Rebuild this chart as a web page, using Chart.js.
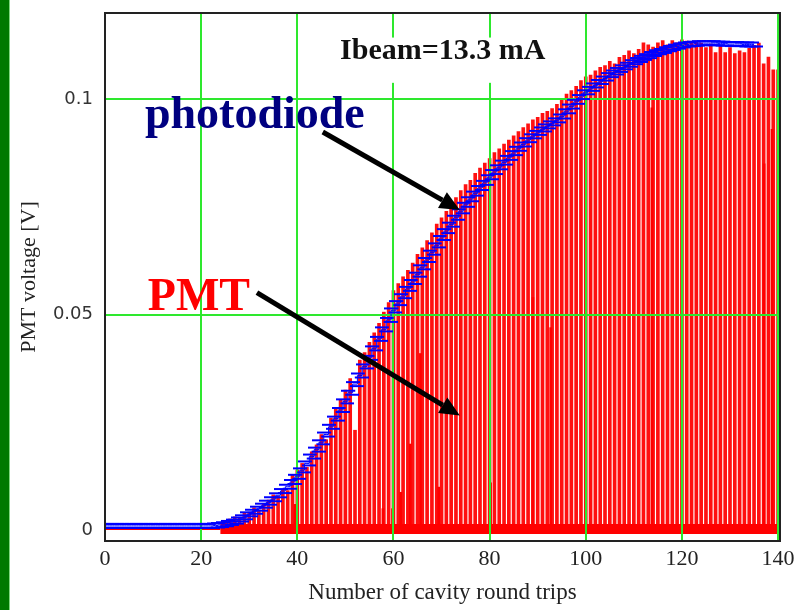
<!DOCTYPE html>
<html>
<head>
<meta charset="utf-8">
<script src="https://cdn.jsdelivr.net/npm/chart.js@4.4.0/dist/chart.umd.min.js"></script>
<style>
  body { margin: 0; background: #fff; }
  #wrap { position: relative; width: 810px; height: 610px; }
  #strip { position: absolute; left: 0; top: 0; width: 9px; height: 610px; background: #007a00; border-right: 1px solid #7fd87f; }
</style>
</head>
<body>
<div id="wrap">
  <canvas id="pmtChart" width="810" height="610"></canvas>
  <div id="strip"></div>
</div>
<script>
// axis ticks
const xTicks = [0, 20, 40, 60, 80, 100, 120, 140];
const yTicks = [0, 0.05, 0.1];

// photodiode signal, one value per round trip (0..135)
const photodiode = [
  0.0010, 0.0010, 0.0010, 0.0010, 0.0010, 0.0010, 0.0010, 0.0010, 0.0010, 0.0010,
  0.0010, 0.0010, 0.0010, 0.0010, 0.0010, 0.0010, 0.0010, 0.0010, 0.0010, 0.0010,
  0.0010, 0.0010, 0.0010, 0.0011, 0.0012, 0.0014, 0.0017, 0.0020, 0.0025, 0.0030,
  0.0037, 0.0043, 0.0050, 0.0057, 0.0064, 0.0072, 0.0081, 0.0091, 0.0101, 0.0112,
  0.0124, 0.0139, 0.0155, 0.0171, 0.0187, 0.0204, 0.0222, 0.0240, 0.0259, 0.0279,
  0.0299, 0.0319, 0.0339, 0.0359, 0.0380, 0.0400, 0.0422, 0.0444, 0.0466, 0.0488,
  0.0510, 0.0527, 0.0543, 0.0560, 0.0576, 0.0593, 0.0610, 0.0627, 0.0644, 0.0661,
  0.0678, 0.0694, 0.0709, 0.0725, 0.0740, 0.0755, 0.0768, 0.0781, 0.0794, 0.0806,
  0.0819, 0.0831, 0.0842, 0.0853, 0.0864, 0.0875, 0.0885, 0.0895, 0.0905, 0.0914,
  0.0922, 0.0930, 0.0937, 0.0944, 0.0951, 0.0960, 0.0972, 0.0983, 0.0994, 0.1005,
  0.1016, 0.1024, 0.1032, 0.1040, 0.1048, 0.1056, 0.1062, 0.1068, 0.1074, 0.1080,
  0.1086, 0.1091, 0.1096, 0.1100, 0.1105, 0.1109, 0.1112, 0.1116, 0.1119, 0.1122,
  0.1125, 0.1127, 0.1128, 0.1129, 0.1130, 0.1130, 0.1130, 0.1130, 0.1129, 0.1129,
  0.1128, 0.1128, 0.1128, 0.1127, 0.1127, 0.1127
];

// PMT pulse peak per round trip (0..140), 0 = no pulse seen
const pmtPeaks = [
  0, 0, 0, 0, 0, 0, 0, 0, 0, 0,
  0, 0, 0, 0, 0, 0, 0, 0, 0, 0,
  0, 0, 0, 0, 0, 0.0022, 0.0026, 0.0031, 0.0028, 0.0040,
  0.0042, 0.0052, 0.0047, 0.0062, 0.0070, 0.0082, 0.0079, 0.0095, 0.0092, 0.0128,
  0.0140, 0.0155, 0.0146, 0.0182, 0.0198, 0.0222, 0.0210, 0.0260, 0.0282, 0.0302,
  0.0325, 0.0352, 0.0232, 0.0395, 0.0412, 0.0436, 0.0458, 0.0480, 0.0506, 0.0528,
  0.0556, 0.0572, 0.0588, 0.0603, 0.0620, 0.0640, 0.0655, 0.0672, 0.0690, 0.0710,
  0.0725, 0.0740, 0.0758, 0.0772, 0.0788, 0.0802, 0.0812, 0.0828, 0.0840, 0.0852,
  0.0862, 0.0876, 0.0885, 0.0896, 0.0905, 0.0915, 0.0925, 0.0934, 0.0943, 0.0952,
  0.0958, 0.0967, 0.0972, 0.0978, 0.0988, 0.1002, 0.1012, 0.1020, 0.1030, 0.1043,
  0.1052, 0.1056, 0.1066, 0.1074, 0.1078, 0.1088, 0.1082, 0.1097, 0.1102, 0.1112,
  0.1106, 0.1116, 0.1131, 0.1126, 0.1121, 0.1131, 0.1136, 0.1126, 0.1136, 0.1131,
  0.1138, 0.1135, 0.1130, 0.1135, 0.1130, 0.1120, 0.1128, 0.1108, 0.1125, 0.1108,
  0.1120, 0.1106, 0.1112, 0.1108, 0.1118, 0.1125, 0.1130, 0.1082, 0.1098, 0.1068,
  0.1068
];

// weaker PMT pulses between the main ones
const pmtExtraTrips = [39.5, 57.8, 59.8, 61.5, 63.5, 65.6, 69.4, 80.2, 89.0, 92.7, 113.75, 137.1, 138.75];
const pmtExtraPeaks = [0.006, 0.005, 0.005, 0.0088, 0.020, 0.041, 0.010, 0.011, 0.054, 0.047, 0.098, 0.085, 0.093];

// PMT noise floor
const floorTrips = [0, 24, 140.4];
const floorLevels = [0.0003, 0.0003, 0.0003];

const pdData = photodiode.map((v, i) => ({ x: i, y: v }));
const pmtData = pmtPeaks.map((v, i) => ({ x: i, y: v })).filter(p => p.y > 0);
const extraData = pmtExtraTrips.map((t, i) => ({ x: t, y: pmtExtraPeaks[i] }));
const floorThin = [{ x: floorTrips[0], y: floorLevels[0] }, { x: floorTrips[1], y: floorLevels[1] }];
const floorThick = [{ x: floorTrips[1], y: floorLevels[1] }, { x: floorTrips[2], y: floorLevels[2] }];

// photodiode marker: two staggered horizontal dashes, like the scope trace
const dash = document.createElement("canvas");
dash.width = 18;
dash.height = 8;
const dctx = dash.getContext("2d");
dctx.fillStyle = "#0000ff";
dctx.fillRect(0, 1, 14, 2);
dctx.fillRect(4, 5, 14, 2);

// green grid drawn over the PMT trace but under the photodiode trace
const gridPlugin = {
  id: "gridOver",
  afterDatasetDraw(chart, args) {
    if (args.meta.label !== "floor") return;
    const { ctx, chartArea, scales } = chart;
    ctx.save();
    ctx.strokeStyle = "#2ee82e";
    ctx.lineWidth = 2;
    ctx.beginPath();
    xTicks.forEach(t => {
      if (t === 0) return;
      const px = Math.round(scales.x.getPixelForValue(t));
      ctx.moveTo(px, chartArea.top);
      ctx.lineTo(px, chartArea.bottom);
    });
    yTicks.forEach(t => {
      if (t === 0) return;
      const py = Math.round(scales.y.getPixelForValue(t));
      ctx.moveTo(chartArea.left, py);
      ctx.lineTo(chartArea.right, py);
    });
    ctx.stroke();
    ctx.restore();
  }
};

function arrow(ctx, x1, y1, x2, y2) {
  const a = Math.atan2(y2 - y1, x2 - x1);
  const len = 20, hw = 9;
  const bx = x2 - len * Math.cos(a), by = y2 - len * Math.sin(a);
  ctx.beginPath();
  ctx.moveTo(x1, y1);
  ctx.lineTo(bx, by);
  ctx.stroke();
  ctx.beginPath();
  ctx.moveTo(x2, y2);
  ctx.lineTo(bx + hw * Math.sin(a), by - hw * Math.cos(a));
  ctx.lineTo(bx - hw * Math.sin(a), by + hw * Math.cos(a));
  ctx.closePath();
  ctx.fill();
}

const notesPlugin = {
  id: "notes",
  afterDatasetsDraw(chart) {
    const { ctx, chartArea, scales } = chart;
    const X = v => scales.x.getPixelForValue(v);
    const Y = v => scales.y.getPixelForValue(v);
    ctx.save();
    // frame
    ctx.strokeStyle = "#222";
    ctx.lineWidth = 2;
    ctx.strokeRect(chartArea.left, chartArea.top, chartArea.right - chartArea.left, chartArea.bottom - chartArea.top);
    // beam current box
    ctx.fillStyle = "#fff";
    ctx.fillRect(X(46.8), Y(0.1143), X(93.5) - X(46.8), Y(0.1038) - Y(0.1143));
    ctx.fillStyle = "#111";
    ctx.font = "bold 30px 'Liberation Serif'";
    ctx.textBaseline = "alphabetic";
    ctx.fillText("Ibeam=13.3 mA", X(48.9), Y(0.1093));
    // labels
    ctx.font = "bold 46px 'Liberation Serif'";
    ctx.fillStyle = "#000080";
    ctx.fillText("photodiode", X(8.3), Y(0.0933));
    ctx.fillStyle = "#ff0000";
    ctx.fillText("PMT", X(8.9), Y(0.0512));
    // arrows
    ctx.strokeStyle = "#000";
    ctx.fillStyle = "#000";
    ctx.lineWidth = 5;
    arrow(ctx, X(45.3), Y(0.0924), X(73.8), Y(0.0743));
    arrow(ctx, X(31.6), Y(0.0551), X(73.8), Y(0.0266));
    ctx.restore();
  }
};

new Chart(document.getElementById("pmtChart"), {
  type: "bar",
  data: {
    datasets: [
      {
        type: "line",
        label: "photodiode",
        data: pdData,
        order: 0,
        stepped: "middle",
        borderColor: "#0000ff",
        borderWidth: 1,
        pointStyle: dash,
        pointRadius: 8
      },
      {
        type: "line",
        label: "floor",
        data: floorThick,
        order: 1,
        borderColor: "#ff0000",
        borderWidth: 10,
        pointRadius: 0
      },
      {
        type: "line",
        label: "floorThin",
        data: floorThin,
        order: 2,
        borderColor: "#ff0000",
        borderWidth: 2,
        pointRadius: 0
      },
      {
        label: "pmtExtra",
        data: extraData,
        order: 3,
        backgroundColor: "#ff0000",
        barThickness: 2,
        grouped: false
      },
      {
        label: "PMT",
        data: pmtData,
        order: 4,
        backgroundColor: "#ff1010",
        borderWidth: 0,
        barThickness: 3,
        grouped: false
      }
    ]
  },
  options: {
    responsive: false,
    animation: false,
    devicePixelRatio: 1,
    layout: { padding: { left: 0, right: 30, top: 13, bottom: 0 } },
    plugins: { legend: { display: false }, tooltip: { enabled: false } },
    scales: {
      x: {
        type: "linear",
        offset: false,
        min: 0,
        max: 140.4,
        afterBuildTicks: s => { s.ticks = xTicks.map(v => ({ value: v })); },
        afterFit: s => { s.height = 69; s.paddingLeft = 0; s.paddingRight = 0; },
        grid: { display: false, drawTicks: false },
        border: { display: false },
        ticks: {
          padding: 5,
          color: "#222",
          font: { family: "Liberation Serif", size: 22 },
          callback: v => String(v)
        },
        title: {
          display: true,
          text: "Number of cavity round trips",
          color: "#222",
          padding: { top: 0, bottom: 3 },
          font: { family: "Liberation Serif", size: 23 }
        }
      },
      y: {
        min: -0.0025,
        max: 0.12,
        afterBuildTicks: s => { s.ticks = yTicks.map(v => ({ value: v })); },
        afterFit: s => { s.width = 105; s.paddingTop = 0; s.paddingBottom = 0; },
        grid: { display: false, drawTicks: false },
        border: { display: false },
        ticks: {
          padding: 12,
          color: "#333",
          font: { family: "DejaVu Sans", size: 18 },
          callback: v => String(v)
        },
        title: {
          display: true,
          text: "PMT voltage [V]",
          color: "#222",
          padding: { top: 16, bottom: 0 },
          font: { family: "Liberation Serif", size: 22 }
        }
      }
    }
  },
  plugins: [gridPlugin, notesPlugin]
});
</script>
</body>
</html>
